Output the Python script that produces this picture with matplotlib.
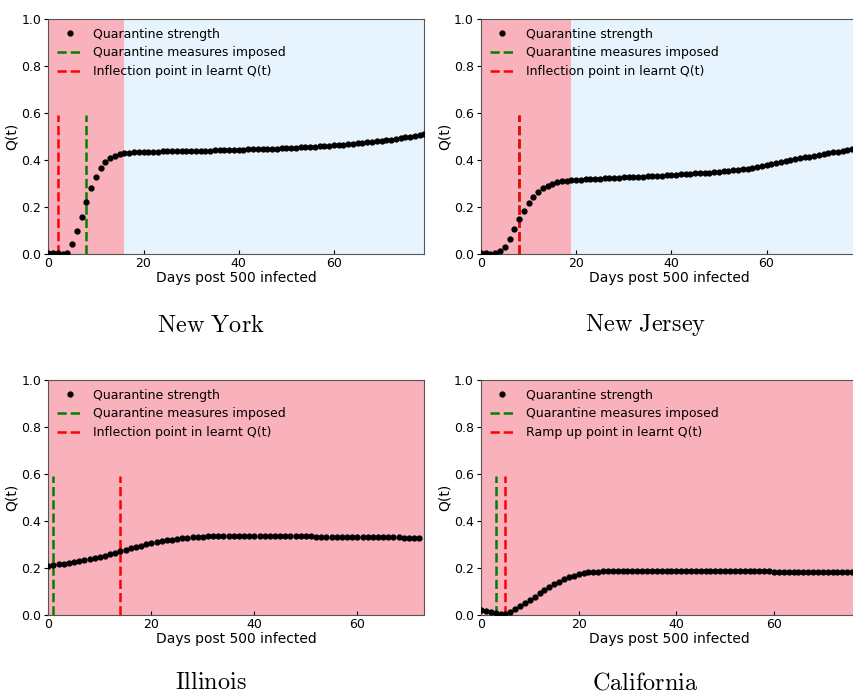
import matplotlib
matplotlib.use("Agg")
import matplotlib.pyplot as plt
import numpy as np

plt.rcParams["mathtext.fontset"] = "cm"

# learnt quarantine strength Q(t), one value per day
ny_q = [
    0.006, 0.006, 0.005, 0.002, 0.004, 0.043, 0.098, 0.159, 0.223, 0.282,
    0.330, 0.367, 0.391, 0.408, 0.419, 0.426, 0.430, 0.432, 0.433, 0.434,
    0.435, 0.435, 0.436, 0.436, 0.437, 0.437, 0.437, 0.438, 0.438, 0.438,
    0.439, 0.439, 0.439, 0.440, 0.440, 0.441, 0.441, 0.442, 0.442, 0.443,
    0.444, 0.444, 0.445, 0.445, 0.446, 0.447, 0.447, 0.448, 0.449, 0.450,
    0.451, 0.452, 0.453, 0.454, 0.455, 0.456, 0.457, 0.458, 0.460, 0.461,
    0.463, 0.464, 0.466, 0.467, 0.469, 0.471, 0.473, 0.475, 0.477, 0.479,
    0.481, 0.484, 0.487, 0.490, 0.493, 0.496, 0.500, 0.504, 0.508, 0.513,
]
nj_q = [
    0.004, 0.003, 0.002, 0.004, 0.012, 0.031, 0.066, 0.106, 0.147, 0.184,
    0.217, 0.243, 0.264, 0.279, 0.291, 0.299, 0.305, 0.309, 0.312, 0.314,
    0.316, 0.317, 0.318, 0.319, 0.320, 0.321, 0.322, 0.323, 0.324, 0.325,
    0.326, 0.327, 0.328, 0.329, 0.330, 0.331, 0.332, 0.333, 0.334, 0.336,
    0.337, 0.338, 0.339, 0.340, 0.341, 0.343, 0.344, 0.345, 0.347, 0.348,
    0.350, 0.352, 0.354, 0.356, 0.358, 0.361, 0.364, 0.367, 0.370, 0.374,
    0.379, 0.383, 0.387, 0.391, 0.395, 0.399, 0.403, 0.407, 0.411, 0.415,
    0.419, 0.423, 0.427, 0.430, 0.433, 0.436, 0.439, 0.442, 0.445,
]
il_q = [
    0.209, 0.212, 0.215, 0.218, 0.221, 0.225, 0.229, 0.233, 0.237, 0.242,
    0.247, 0.252, 0.258, 0.264, 0.271, 0.277, 0.283, 0.289, 0.295, 0.300,
    0.305, 0.310, 0.314, 0.318, 0.321, 0.324, 0.327, 0.329, 0.331, 0.333,
    0.334, 0.335, 0.336, 0.337, 0.337, 0.338, 0.338, 0.338, 0.338, 0.338,
    0.338, 0.338, 0.337, 0.337, 0.337, 0.337, 0.336, 0.336, 0.336, 0.335,
    0.335, 0.335, 0.334, 0.334, 0.334, 0.333, 0.333, 0.333, 0.332, 0.332,
    0.332, 0.331, 0.331, 0.331, 0.331, 0.330, 0.330, 0.330, 0.330, 0.329,
    0.329, 0.329, 0.329,
]
ca_q = [
    0.021, 0.018, 0.014, 0.010, 0.006, 0.004, 0.012, 0.024, 0.037, 0.050,
    0.064, 0.078, 0.092, 0.106, 0.119, 0.131, 0.142, 0.152, 0.160, 0.167,
    0.173, 0.177, 0.181, 0.183, 0.185, 0.186, 0.187, 0.188, 0.188, 0.189,
    0.189, 0.189, 0.189, 0.189, 0.189, 0.189, 0.189, 0.189, 0.189, 0.189,
    0.189, 0.189, 0.188, 0.188, 0.188, 0.188, 0.188, 0.188, 0.187, 0.187,
    0.187, 0.187, 0.187, 0.187, 0.186, 0.186, 0.186, 0.186, 0.186, 0.186,
    0.185, 0.185, 0.185, 0.185, 0.185, 0.185, 0.184, 0.184, 0.184, 0.184,
    0.184, 0.184, 0.183, 0.183, 0.183, 0.183, 0.183, 0.183,
]

states = ["New York", "New Jersey", "Illinois", "California"]
series = [ny_q, nj_q, il_q, ca_q]
measures_day = [8, 8, 1, 3]        # quarantine measures imposed
inflection_day = [2, 8, 14, 5]     # inflection / ramp up point
red_labels = [
    "Inflection point in learnt Q(t)",
    "Inflection point in learnt Q(t)",
    "Inflection point in learnt Q(t)",
    "Ramp up point in learnt Q(t)",
]
pink_until = [16, 19, None, None]  # end of pink shaded period
x_max = [79, 79, 73, 77]

PINK = "#f9b1bc"
BLUE = "#e8f4fd"

fig = plt.figure(figsize=(8.54, 6.96), dpi=100)
positions = [
    [0.0566, 0.635, 0.4403, 0.3376],
    [0.5632, 0.635, 0.4403, 0.3376],
    [0.0566, 0.1164, 0.4403, 0.3376],
    [0.5632, 0.1164, 0.4403, 0.3376],
]
title_pos = [(0.247, 0.533), (0.756, 0.533), (0.247, 0.02), (0.756, 0.02)]

for i, name in enumerate(states):
    ax = fig.add_axes(positions[i])
    q = np.array(series[i])
    days = np.arange(len(q))

    if pink_until[i] is None:
        ax.set_facecolor(PINK)
    else:
        ax.set_facecolor(BLUE)
        ax.axvspan(0, pink_until[i], color=PINK, lw=0, zorder=0)

    ax.plot(days, q, "o", color="black", ms=3.5, label="Quarantine strength", zorder=3)
    ax.vlines(measures_day[i], 0, 0.59, colors="green", linestyles="--", lw=1.8,
              label="Quarantine measures imposed", zorder=2)
    ax.vlines(inflection_day[i], 0, 0.59, colors="red", linestyles="--", lw=1.8,
              label=red_labels[i], zorder=2)

    ax.set_xlim(0, x_max[i])
    ax.set_ylim(0, 1.0)
    ax.set_xticks([0, 20, 40, 60])
    ax.set_yticks([0, 0.2, 0.4, 0.6, 0.8, 1.0])
    ax.tick_params(axis="x", direction="in", length=3, labelsize=9, pad=2)
    ax.tick_params(axis="y", direction="out", length=3, labelsize=9, pad=2)
    for s in ax.spines.values():
        s.set_color("#555555")
    ax.set_xlabel("Days post 500 infected", fontsize=10, labelpad=1)
    ax.set_ylabel("Q(t)", fontsize=10, labelpad=2)

    ax.legend(loc="upper left", frameon=False, fontsize=9, numpoints=1,
              handlelength=2.0, handletextpad=0.9, labelspacing=0.45,
              borderaxespad=0.3)

    tx, ty = title_pos[i]
    fig.text(tx, ty, r"$\mathrm{" + name.replace(" ", r"\ ") + "}$",
             ha="center", va="center", fontsize=17.5)

fig.savefig("out.png", dpi=100)
